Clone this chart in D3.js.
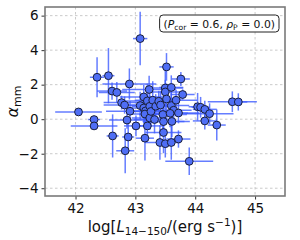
<!DOCTYPE html>
<html><head><meta charset="utf-8">
<script src="https://cdn.jsdelivr.net/npm/d3@7"></script>
<style>html,body{margin:0;padding:0;background:#fff}svg{display:block;font-family:"DejaVu Sans",sans-serif}</style>
</head><body>
<svg id="c" width="300" height="240"></svg>
<script>
const xVals = [42.05,42.31,42.31,42.36,42.55,42.61,42.69,42.62,42.77,42.82,42.83,42.86,42.88,42.90,42.91,43.01,43.08,43.08,43.14,43.14,43.16,43.17,43.16,43.20,43.20,43.23,43.24,43.24,43.26,43.29,43.32,43.34,43.39,43.42,43.41,43.46,43.47,43.47,43.50,43.50,43.50,43.52,43.52,43.60,43.60,43.61,43.60,43.64,43.68,43.72,43.72,43.58,43.79,43.76,43.90,44.04,44.09,44.16,44.16,44.24,44.36,44.62,44.72];
const yVals = [0.42,-0.02,-0.39,2.43,2.52,1.63,1.55,-0.97,0.96,0.82,-1.83,-0.05,-1.03,2.04,0.46,-0.39,4.67,0.79,1.29,0.65,-1.10,0.48,0.30,-0.39,1.06,1.72,0.75,0.07,0.45,1.10,-0.02,0.75,1.04,0.82,-1.35,0.27,-0.77,-0.14,-1.42,1.81,1.58,1.17,3.03,1.84,0.79,-0.13,-1.35,0.52,1.10,-1.15,0.36,0.34,1.43,2.33,-2.44,0.72,0.69,0.57,-0.10,0.32,-0.34,1.01,1.00];
const xErr = [0.39,0.10,0.39,0.12,0.10,0.25,0.30,0.10,0.30,0.35,0.15,0.30,0.10,0.45,0.40,0.20,0.12,0.30,0.40,0.35,0.15,0.30,0.30,0.25,0.40,0.45,0.30,0.30,0.35,0.30,0.35,0.30,0.30,0.25,0.25,0.40,0.30,0.35,0.15,0.30,0.30,0.25,0.12,0.20,0.30,0.30,0.15,0.30,0.35,0.20,0.35,0.30,0.20,0.15,0.40,0.15,0.15,0.20,0.20,0.40,0.15,0.41,0.15];
const yErr = [0.10,0.15,0.15,1.16,1.60,0.50,0.60,1.25,0.40,0.50,1.30,0.50,0.80,0.90,0.60,0.60,1.55,0.80,0.70,0.90,1.30,0.80,0.60,0.70,1.00,0.80,0.70,0.70,0.90,1.10,0.80,0.70,0.60,0.80,1.00,0.90,1.20,0.80,0.80,1.30,0.70,0.90,0.80,0.70,0.80,0.90,1.00,0.70,0.60,0.50,0.60,0.80,0.30,0.40,0.80,0.80,0.60,0.50,0.50,0.60,0.90,0.60,0.50];
const xTicks = [42,43,44,45];
const yTicks = [-4,-2,0,2,4,6];

const svg = d3.select("#c");
const L=45,R=285,T=7,B=196;
const x = d3.scaleLinear().domain([41.49,45.5]).range([L,R]);
const y = d3.scaleLinear().domain([-4.45,6.5]).range([B,T]);

// grid
const g = svg.append("g");
g.selectAll(".gx").data(xTicks).enter().append("line")
 .attr("x1",d=>x(d)).attr("x2",d=>x(d)).attr("y1",T).attr("y2",B)
 .attr("stroke","#c4c4c4").attr("stroke-width",0.9).attr("stroke-dasharray","2.5,2.5");
g.selectAll(".gy").data(yTicks).enter().append("line")
 .attr("x1",L).attr("x2",R).attr("y1",d=>y(d)).attr("y2",d=>y(d))
 .attr("stroke","#c4c4c4").attr("stroke-width",0.9).attr("stroke-dasharray","2.5,2.5");

const pts = xVals.map((v,i)=>({x:v,y:yVals[i],xe:xErr[i],ye:yErr[i]}));
const eb = svg.append("g").attr("stroke","#3f5dff").attr("stroke-opacity",0.8).attr("stroke-width",1.5);
eb.selectAll(".h").data(pts).enter().append("line")
 .attr("x1",d=>x(d.x-d.xe)).attr("x2",d=>x(d.x+d.xe)).attr("y1",d=>y(d.y)).attr("y2",d=>y(d.y));
eb.selectAll(".v").data(pts).enter().append("line")
 .attr("x1",d=>x(d.x)).attr("x2",d=>x(d.x)).attr("y1",d=>y(d.y-d.ye)).attr("y2",d=>y(d.y+d.ye));
svg.append("g").selectAll("circle").data(pts).enter().append("circle")
 .attr("cx",d=>x(d.x)).attr("cy",d=>y(d.y)).attr("r",3.9)
 .attr("fill","#4f6ef5").attr("stroke","#1a1f3a").attr("stroke-width",1);

// axes
const xa = svg.append("g").attr("transform",`translate(0,${B})`)
 .call(d3.axisBottom(x).tickValues(xTicks).tickFormat(d3.format("d")).tickSize(3.5).tickPadding(4));
const ya = svg.append("g").attr("transform",`translate(${L},0)`)
 .call(d3.axisLeft(y).tickValues(yTicks).tickFormat(d=>d<0?"\u2212"+Math.abs(d):d).tickSize(3.5).tickPadding(3));
[xa,ya].forEach(a=>{a.select(".domain").remove();a.selectAll("text").attr("font-size",13.5).attr("fill","#111").attr("font-family","DejaVu Sans");a.selectAll("line").attr("stroke","#333");});
svg.append("rect").attr("x",L).attr("y",T).attr("width",R-L).attr("height",B-T)
 .attr("fill","none").attr("stroke","#7a7a7a").attr("stroke-width",1.6);

// labels
const xl = svg.append("text").attr("x",(L+R)/2).attr("y",232).attr("text-anchor","middle").attr("font-size",15).attr("fill","#111");
xl.append("tspan").text("log[");
xl.append("tspan").attr("font-style","italic").text("L");
xl.append("tspan").attr("font-size",10.5).attr("dy",3).text("14\u2212150");
xl.append("tspan").attr("dy",-3).text("/(erg s");
xl.append("tspan").attr("font-size",10.5).attr("dy",-6).text("\u22121");
xl.append("tspan").attr("dy",6).text(")]");

const yl = svg.append("text").attr("transform",`translate(18,${(T+B)/2}) rotate(-90)`).attr("text-anchor","middle").attr("font-size",16).attr("fill","#111");
yl.append("tspan").attr("font-style","italic").text("\u03b1");
yl.append("tspan").attr("font-size",11).attr("dy",3).text("mm");

// annotation box
const ann = svg.append("g");
const at = ann.append("text").attr("y",27.5).attr("font-size",10.8).attr("fill","#111");
at.append("tspan").text("(");
at.append("tspan").attr("font-style","italic").text("P");
at.append("tspan").attr("font-size",7.6).attr("dy",2).text("cor");
at.append("tspan").attr("dy",-2).text(" = 0.6, ");
at.append("tspan").attr("font-style","italic").text("\u03c1");
at.append("tspan").attr("font-size",7.6).attr("dy",2).text("P");
at.append("tspan").attr("dy",-2).text(" = 0.0)");
const w = at.node().getComputedTextLength();
const bx1 = 279, bx0 = bx1 - w - 8;
at.attr("x", bx0+4);
ann.insert("rect","text").attr("x",bx0).attr("y",15).attr("width",bx1-bx0).attr("height",17).attr("rx",3.5)
 .attr("fill","#fff").attr("stroke","#222").attr("stroke-width",1);
</script>
</body></html>
